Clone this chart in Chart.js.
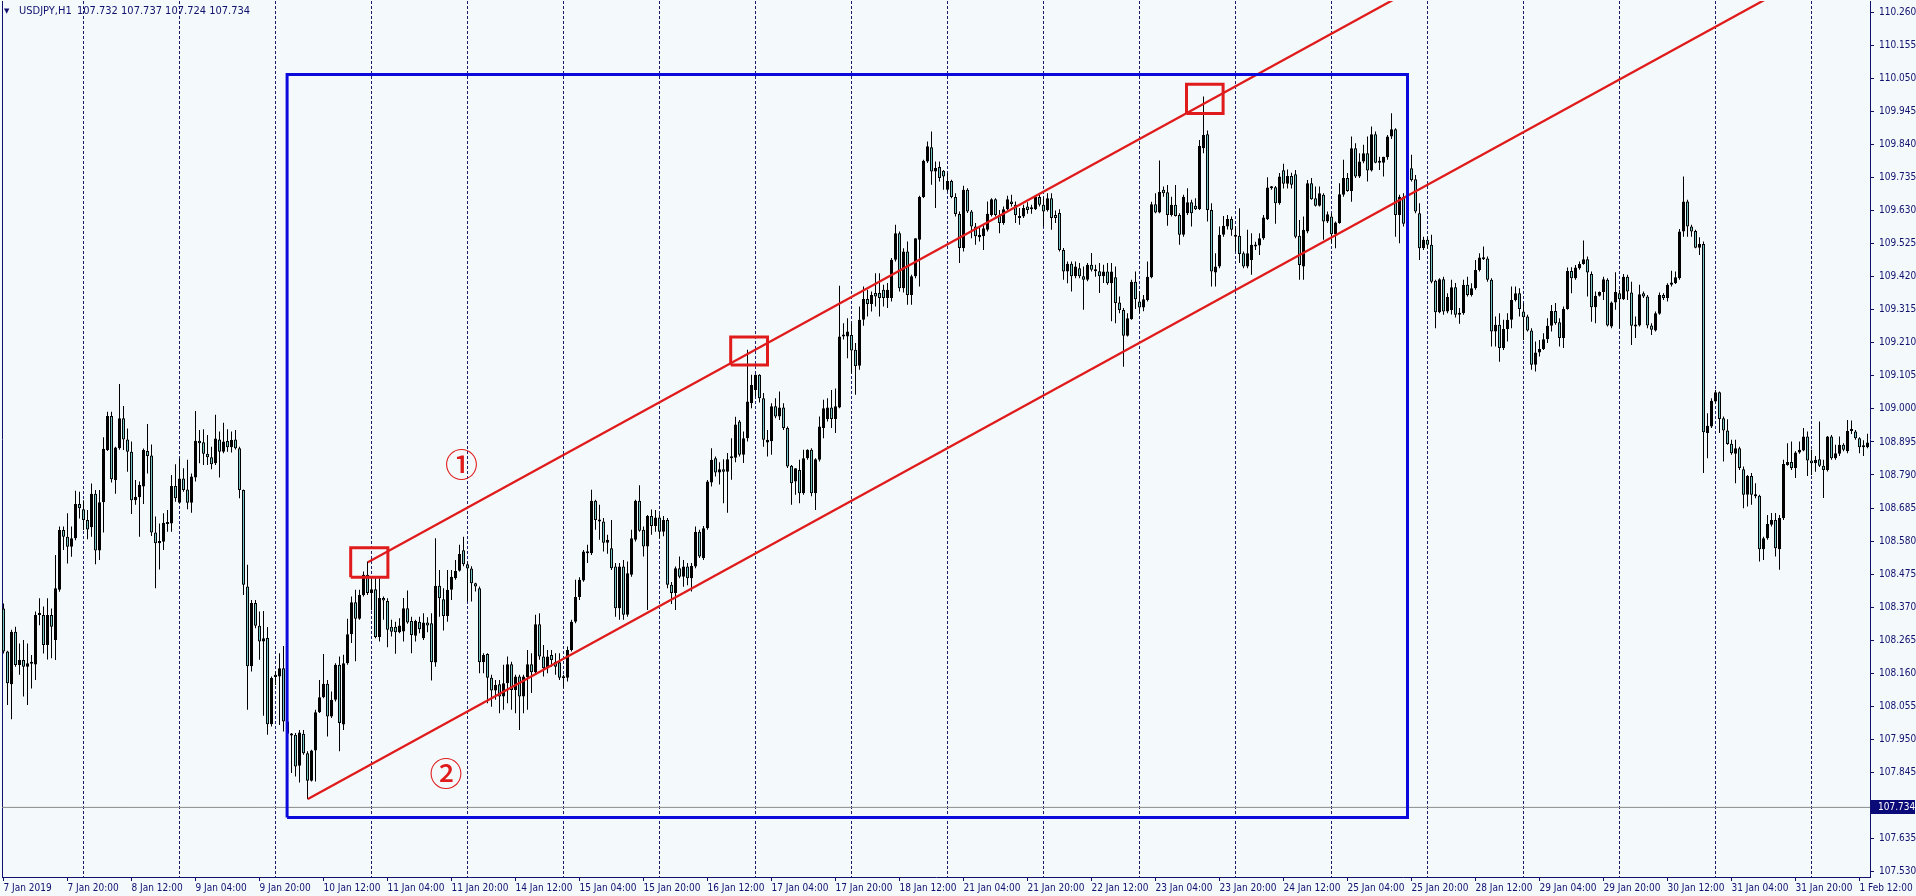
<!DOCTYPE html>
<html><head><meta charset="utf-8">
<script src="https://cdn.jsdelivr.net/npm/chart.js@4.4.1/dist/chart.umd.min.js"></script>
<style>html,body{margin:0;padding:0;background:#F4FAFC;overflow:hidden}canvas{display:block}</style>
</head><body>
<canvas id="c" width="1916" height="896"></canvas>
<script>
// ---- chart text ----
const symbolTitle = 'USDJPY,H1';
const titleQuote = '107.732 107.737 107.724 107.734';
const currentPrice = 107.734;

// ---- axis labels (bar index of each label, 1 bar = 1 hour) ----
const xLabels = ['7 Jan 2019','7 Jan 20:00','8 Jan 12:00','9 Jan 04:00','9 Jan 20:00','10 Jan 12:00','11 Jan 04:00','11 Jan 20:00','14 Jan 12:00','15 Jan 04:00','15 Jan 20:00','16 Jan 12:00','17 Jan 04:00','17 Jan 20:00','18 Jan 12:00','21 Jan 04:00','21 Jan 20:00','22 Jan 12:00','23 Jan 04:00','23 Jan 20:00','24 Jan 12:00','25 Jan 04:00','25 Jan 20:00','28 Jan 12:00','29 Jan 04:00','29 Jan 20:00','30 Jan 12:00','31 Jan 04:00','31 Jan 20:00','1 Feb 12:00'];
const xLabelBars = [0,16,32,48,64,80,96,112,128,144,160,176,192,208,224,240,256,272,288,304,320,336,352,368,384,400,416,432,448,464];
const daySeparatorBars = [20,44,68,92,116,140,164,188,212,236,260,284,308,332,356,380,404,428,452];
const yTicks = [107.530,107.635,107.845,107.950,108.055,108.160,108.265,108.370,108.475,108.580,108.685,108.790,108.895,109.000,109.105,109.210,109.315,109.420,109.525,109.630,109.735,109.840,109.945,110.050,110.155,110.260];

// ---- hourly candles [open, high, low, close] ----
const week1 = [
[108.366,108.382,108.223,108.229],[108.229,108.232,108.059,108.128],[108.125,108.298,108.014,108.292],[108.292,108.308,108.181,108.186],[108.186,108.255,108.155,108.202],
[108.202,108.266,108.086,108.181],[108.181,108.255,108.059,108.192],[108.192,108.218,108.112,108.190],[108.188,108.356,108.139,108.345],[108.345,108.398,108.313,108.348],
[108.345,108.372,108.223,108.250],[108.250,108.398,108.204,108.345],[108.345,108.366,108.208,108.308],[108.266,108.536,108.202,108.430],[108.425,108.626,108.419,108.615],
[108.615,108.626,108.552,108.594],[108.594,108.668,108.509,108.562],[108.562,108.626,108.530,108.589],[108.589,108.740,108.583,108.698],[108.698,108.737,108.652,108.684],
[108.681,108.710,108.615,108.647],[108.647,108.679,108.586,108.617],[108.624,108.763,108.594,108.730],[108.730,108.742,108.506,108.550],[108.550,108.742,108.520,108.703],
[108.703,108.910,108.607,108.873],[108.869,108.991,108.866,108.977],[108.977,108.991,108.766,108.776],[108.774,108.880,108.730,108.877],[108.875,109.079,108.870,108.970],
[108.970,109.009,108.869,108.903],[108.903,108.938,108.800,108.864],[108.864,108.896,108.666,108.710],[108.710,108.774,108.695,108.721],[108.719,108.769,108.594,108.758],
[108.753,108.874,108.698,108.869],[108.866,108.952,108.795,108.850],[108.852,108.887,108.596,108.607],[108.607,108.658,108.430,108.573],[108.573,108.636,108.490,108.580],
[108.578,108.668,108.552,108.638],[108.634,108.679,108.610,108.640],[108.636,108.790,108.610,108.755],[108.755,108.824,108.705,108.716],[108.702,108.843,108.700,108.779],
[108.779,108.811,108.737,108.742],[108.744,108.838,108.681,108.702],[108.702,108.795,108.670,108.785],[108.782,108.993,108.769,108.899],[108.899,108.933,108.827,108.891],
[108.894,108.935,108.822,108.857],[108.857,108.917,108.822,108.846],[108.846,108.880,108.808,108.824],[108.827,108.981,108.822,108.906],[108.903,108.928,108.782,108.864],
[108.864,108.956,108.859,108.896],[108.898,108.935,108.864,108.878],[108.878,108.928,108.861,108.901],[108.903,108.933,108.871,108.875],[108.875,108.880,108.716,108.742],
[108.742,108.744,108.409,108.441],[108.436,108.505,108.044,108.182],[108.182,108.393,108.166,108.383],[108.383,108.393,108.303,108.311],[108.311,108.356,108.203,108.261],
[108.261,108.358,108.025,108.271],[108.272,108.307,107.965,107.998],[107.998,108.150,107.991,108.145],[108.155,108.166,108.123,108.148],[108.150,108.224,107.996,108.176],
[108.176,108.247,107.975,108.007],[108.007,108.012,107.870,107.968],[107.962,107.970,107.843,107.965],[107.965,107.970,107.832,107.864],[107.866,107.980,107.813,107.972],
[107.968,107.980,107.901,107.906],[107.906,107.912,107.760,107.819],[107.819,107.917,107.816,107.915],[107.915,108.044,107.816,108.036],[108.036,108.139,108.034,108.084],
[108.084,108.221,108.081,108.127],[108.127,108.139,107.959,108.023],[108.023,108.102,108.018,108.076],[108.076,108.192,108.070,108.187],[108.187,108.213,107.912,108.002],
[107.997,108.219,107.980,108.192],[108.192,108.333,108.187,108.284],[108.284,108.404,108.256,108.386],[108.386,108.425,108.198,108.333],[108.333,108.425,108.330,108.409],
[108.409,108.483,108.404,108.473],[108.473,108.515,108.409,108.415],[108.415,108.460,108.360,108.427],[108.427,108.462,108.271,108.275],[108.275,108.462,108.261,108.399],
[108.399,108.404,108.330,108.391],[108.390,108.398,108.243,108.298],[108.308,108.330,108.277,108.292],[108.308,108.324,108.222,108.290],[108.290,108.335,108.287,108.312],
[108.293,108.399,108.261,108.367],[108.367,108.423,108.317,108.321],[108.326,108.340,108.224,108.282],[108.279,108.330,108.261,108.326],[108.324,108.340,108.287,108.300],
[108.271,108.351,108.266,108.321],[108.321,108.338,108.290,108.312],[108.319,108.351,108.137,108.195],[108.194,108.589,108.181,108.438],[108.438,108.488,108.340,108.398],
[108.395,108.430,108.296,108.342],[108.342,108.488,108.324,108.425],[108.425,108.488,108.393,108.467],[108.462,108.520,108.457,108.485],[108.486,108.568,108.483,108.539],
[108.551,108.594,108.500,108.506]
];
const week2 = [
[108.506,108.511,108.388,108.493],[108.493,108.500,108.388,108.446],[108.446,108.448,108.420,108.436],[108.430,108.436,108.160,108.195],[108.195,108.224,108.160,108.218],
[108.221,108.224,108.065,108.146],[108.146,108.155,108.054,108.105],[108.105,108.139,108.076,108.123],[108.125,108.139,108.033,108.086],[108.086,108.187,108.044,108.128],
[108.128,108.213,108.065,108.189],[108.189,108.197,108.044,108.107],[108.107,108.155,108.033,108.150],[108.150,108.155,107.980,108.086],[108.086,108.155,108.033,108.150],
[108.148,108.234,108.044,108.189],[108.189,108.224,108.097,108.163],[108.163,108.346,108.160,108.316],[108.316,108.351,108.203,108.213],[108.213,108.250,108.150,108.176],
[108.176,108.234,108.160,108.213],[108.218,108.234,108.181,108.202],[108.197,108.224,108.155,108.181],[108.195,108.224,108.139,108.146],[108.150,108.155,108.113,108.144],
[108.146,108.245,108.134,108.234],[108.234,108.330,108.229,108.324],[108.324,108.457,108.319,108.402],[108.402,108.465,108.393,108.457],[108.455,108.552,108.451,108.547],
[108.547,108.568,108.510,108.541],[108.541,108.743,108.536,108.708],[108.708,108.711,108.616,108.647],[108.647,108.695,108.584,108.642],[108.642,108.653,108.547,108.575],
[108.575,108.600,108.540,108.584],[108.557,108.647,108.488,108.494],[108.499,108.510,108.340,108.367],[108.367,108.510,108.330,108.499],[108.499,108.520,108.330,108.346],
[108.346,108.515,108.340,108.478],[108.473,108.616,108.467,108.589],[108.584,108.711,108.579,108.708],[108.708,108.757,108.610,108.613],[108.616,108.626,108.531,108.563],
[108.563,108.663,108.361,108.660],[108.660,108.680,108.600,108.628],[108.628,108.679,108.610,108.655],[108.655,108.665,108.590,108.610],[108.610,108.660,108.595,108.647],
[108.647,108.653,108.430,108.441],[108.441,108.450,108.380,108.415],[108.415,108.499,108.361,108.494],[108.494,108.531,108.462,108.467],[108.467,108.520,108.435,108.499],
[108.499,108.510,108.440,108.462],[108.462,108.510,108.420,108.502],[108.499,108.626,108.494,108.610],[108.610,108.616,108.526,108.531],[108.526,108.628,108.520,108.621],
[108.621,108.774,108.616,108.769],[108.766,108.875,108.753,108.838],[108.843,108.849,108.785,108.798],[108.798,108.830,108.760,108.808],[108.808,108.840,108.700,108.800],
[108.800,108.860,108.670,108.840],[108.848,108.907,108.775,108.843],[108.845,108.975,108.830,108.950],[108.960,108.965,108.849,108.854],[108.854,108.928,108.828,108.907],
[108.907,109.188,108.896,109.023],[109.018,109.108,109.002,109.076],[109.060,109.110,109.040,109.108],[109.108,109.110,109.020,109.034],[109.034,109.050,108.880,108.902],
[108.893,108.933,108.849,108.902],[108.897,109.018,108.854,109.008],[109.008,109.034,108.970,108.976],[108.976,109.055,108.965,109.004],[109.004,109.018,108.933,108.939],
[108.939,108.944,108.812,108.817],[108.819,108.822,108.695,108.764],[108.769,108.811,108.727,108.811],[108.806,108.838,108.700,108.732],[108.732,108.870,108.727,108.843],
[108.843,108.872,108.838,108.870],[108.870,108.875,108.722,108.732],[108.732,108.843,108.679,108.840],[108.838,108.976,108.833,108.944],[108.939,109.029,108.907,109.002],
[108.968,109.034,108.960,109.004],[109.004,109.060,108.939,108.968],[108.968,109.065,108.923,109.008],[109.004,109.391,109.002,109.230],[109.230,109.272,109.220,109.232],
[109.230,109.288,109.161,109.246],[109.235,109.272,109.113,109.185],[109.188,109.209,109.045,109.135],[109.137,109.325,109.124,109.283],[109.283,109.389,109.264,109.349],
[109.349,109.378,109.293,109.333],[109.333,109.373,109.309,109.362],[109.368,109.431,109.325,109.357],[109.368,109.431,109.293,109.352],[109.378,109.394,109.325,109.352],
[109.352,109.400,109.320,109.378],[109.352,109.479,109.341,109.474],[109.474,109.585,109.468,109.558],[109.558,109.563,109.373,109.383],[109.383,109.510,109.370,109.500],
[109.500,109.532,109.331,109.362],[109.362,109.426,109.331,109.421],[109.421,109.542,109.415,109.542],[109.537,109.677,109.389,109.673],[109.673,109.791,109.670,109.788],
[109.786,109.849,109.781,109.834],[109.831,109.881,109.712,109.754],[109.754,109.786,109.638,109.765],[109.768,109.786,109.722,109.733],[109.756,109.759,109.696,109.738]
];
const week3 = [
[109.696,109.749,109.691,109.724],[109.724,109.728,109.669,109.673],[109.673,109.685,109.611,109.619],[109.619,109.627,109.463,109.511],[109.511,109.709,109.500,109.696],
[109.696,109.701,109.622,109.627],[109.627,109.632,109.542,109.579],[109.579,109.590,109.521,109.548],[109.545,109.579,109.532,109.553],[109.548,109.585,109.505,109.574],
[109.569,109.659,109.563,109.620],[109.616,109.669,109.611,109.666],[109.666,109.669,109.611,109.616],[109.616,109.632,109.558,109.590],[109.590,109.643,109.585,109.634],
[109.634,109.677,109.632,109.666],[109.659,109.680,109.643,109.651],[109.648,109.659,109.590,109.616],[109.613,109.638,109.585,109.606],[109.611,109.648,109.606,109.638],
[109.643,109.656,109.620,109.632],[109.634,109.648,109.620,109.638],[109.634,109.677,109.632,109.673],[109.673,109.680,109.643,109.648],[109.648,109.673,109.579,109.627],
[109.632,109.685,109.627,109.669],[109.669,109.685,109.569,109.606],[109.616,109.630,109.590,109.606],[109.622,109.634,109.500,109.505],[109.505,109.511,109.410,109.436],
[109.436,109.468,109.399,109.461],[109.461,109.468,109.373,109.421],[109.421,109.468,109.415,109.452],[109.447,109.463,109.415,109.421],[109.421,109.452,109.315,109.410],
[109.410,109.463,109.405,109.458],[109.458,109.495,109.436,109.442],[109.442,109.458,109.420,109.437],[109.437,109.463,109.368,109.421],[109.421,109.458,109.400,109.436],
[109.436,109.463,109.394,109.399],[109.399,109.463,109.278,109.436],[109.418,109.452,109.272,109.336],[109.338,109.357,109.304,109.314],[109.314,109.320,109.134,109.232],
[109.232,109.304,109.230,109.288],[109.285,109.410,109.283,109.404],[109.404,109.436,109.317,109.348],[109.341,109.373,109.304,109.322],[109.322,109.362,109.310,109.348],
[109.346,109.468,109.341,109.420],[109.418,109.658,109.415,109.650],[109.650,109.685,109.621,109.624],[109.624,109.789,109.621,109.690],[109.696,109.706,109.674,109.685],
[109.688,109.711,109.582,109.616],[109.616,109.674,109.611,109.648],[109.648,109.711,109.611,109.613],[109.616,109.621,109.521,109.553],[109.553,109.680,109.547,109.674],
[109.621,109.701,109.616,109.656],[109.656,109.664,109.579,109.621],[109.645,109.669,109.632,109.634],[109.634,109.854,109.632,109.835],[109.828,109.992,109.812,109.870],
[109.872,109.884,109.595,109.632],[109.632,109.653,109.389,109.436],[109.433,109.494,109.389,109.452],[109.452,109.579,109.447,109.553],[109.553,109.613,109.547,109.582],
[109.579,109.616,109.570,109.603],[109.603,109.611,109.550,109.569],[109.553,109.579,109.500,109.547],[109.550,109.637,109.463,109.492],[109.494,109.500,109.447,109.452],
[109.452,109.569,109.447,109.494],[109.473,109.558,109.426,109.521],[109.521,109.531,109.505,109.516],[109.519,109.558,109.489,109.542],[109.542,109.616,109.537,109.608],
[109.602,109.736,109.600,109.703],[109.704,109.708,109.696,109.701],[109.704,109.708,109.588,109.653],[109.653,109.749,109.648,109.738],[109.758,109.779,109.700,109.715],
[109.715,109.760,109.700,109.740],[109.740,109.750,109.700,109.712],[109.745,109.759,109.542,109.547],[109.550,109.600,109.410,109.457],[109.452,109.611,109.410,109.569],
[109.563,109.727,109.558,109.717],[109.717,109.733,109.664,109.666],[109.669,109.706,109.643,109.645],[109.645,109.706,109.643,109.685],[109.680,109.685,109.537,109.595],
[109.595,109.627,109.590,109.618],[109.611,109.621,109.526,109.555],[109.555,109.595,109.510,109.592],[109.590,109.717,109.588,109.682],[109.680,109.791,109.674,109.733],
[109.733,109.749,109.690,109.692],[109.692,109.865,109.658,109.828],[109.828,109.844,109.733,109.738],[109.738,109.812,109.733,109.786],[109.786,109.839,109.780,109.812],
[109.812,109.865,109.722,109.757],[109.757,109.897,109.754,109.872],[109.872,109.881,109.780,109.782],[109.782,109.801,109.759,109.786],[109.782,109.801,109.738,109.801],
[109.799,109.870,109.791,109.865],[109.865,109.939,109.857,109.888],[109.888,109.891,109.547,109.616],[109.616,109.680,109.526,109.674],[109.674,109.685,109.579,109.588],
[109.588,109.907,109.569,109.764],[109.764,109.807,109.722,109.727],[109.729,109.743,109.621,109.627],[109.621,109.653,109.473,109.510],[109.510,109.547,109.505,109.537]
];
const week4 = [
[109.537,109.545,109.510,109.521],[109.521,109.553,109.399,109.404],[109.407,109.410,109.256,109.307],[109.307,109.415,109.304,109.412],[109.412,109.420,109.299,109.309],
[109.309,109.367,109.304,109.355],[109.314,109.410,109.300,109.386],[109.386,109.400,109.290,109.299],[109.299,109.320,109.270,109.305],[109.304,109.410,109.299,109.394],
[109.394,109.420,109.357,109.362],[109.362,109.399,109.357,109.383],[109.383,109.473,109.378,109.441],[109.441,109.494,109.436,109.481],[109.481,109.516,109.473,109.475],
[109.478,109.484,109.404,109.410],[109.410,109.415,109.198,109.246],[109.246,109.293,109.198,109.267],[109.267,109.304,109.150,109.193],[109.193,109.283,109.187,109.254],
[109.254,109.304,109.214,109.283],[109.283,109.389,109.256,109.346],[109.346,109.389,109.341,109.367],[109.367,109.383,109.293,109.317],[109.309,109.336,109.219,109.291],
[109.293,109.299,109.246,109.249],[109.249,109.256,109.124,109.140],[109.140,109.214,109.119,109.179],[109.179,109.219,109.166,109.190],[109.190,109.240,109.187,109.221],
[109.221,109.288,109.209,109.264],[109.264,109.330,109.246,109.311],[109.311,109.336,109.267,109.272],[109.275,109.288,109.198,109.225],[109.225,109.325,109.193,109.317],
[109.317,109.449,109.315,109.438],[109.438,109.450,109.367,109.415],[109.415,109.457,109.410,109.449],[109.447,109.468,109.442,109.460],[109.460,109.535,109.458,109.475],
[109.475,109.484,109.357,109.433],[109.428,109.436,109.277,109.323],[109.323,109.373,109.272,109.359],[109.359,109.373,109.357,109.371],[109.371,109.420,109.346,109.412],
[109.410,109.415,109.262,109.265],[109.262,109.341,109.256,109.338],[109.338,109.434,109.315,109.371],[109.367,109.378,109.256,109.348],[109.348,109.428,109.346,109.420],
[109.420,109.426,109.346,109.373],[109.370,109.404,109.203,109.264],[109.262,109.293,109.225,109.267],[109.265,109.394,109.262,109.364],[109.367,109.373,109.352,109.357],
[109.357,109.362,109.256,109.265],[109.265,109.272,109.235,109.251],[109.249,109.309,109.246,109.304],[109.302,109.370,109.299,109.362],[109.362,109.367,109.346,109.352],
[109.352,109.399,109.341,109.394],[109.394,109.439,109.389,109.401],[109.399,109.436,109.397,109.418],[109.415,109.571,109.410,109.563],[109.563,109.738,109.547,109.659],
[109.659,109.664,109.547,109.579],[109.579,109.585,109.547,109.563],[109.565,109.569,109.510,109.512],[109.512,109.545,109.489,109.524],[109.524,109.532,108.796,108.926],
[108.923,108.986,108.843,108.946],[108.944,109.034,108.939,109.026],[109.023,109.060,109.018,109.053],[109.053,109.055,108.923,108.968],[108.970,108.976,108.833,108.931],
[108.931,108.967,108.886,108.888],[108.889,108.902,108.854,108.859],[108.857,108.902,108.764,108.875],[108.875,108.880,108.806,108.812],[108.808,108.817,108.684,108.727],
[108.727,108.790,108.690,108.787],[108.787,108.796,108.695,108.727],[108.722,108.764,108.716,108.727],[108.724,108.727,108.515,108.554],[108.554,108.594,108.520,108.589],
[108.589,108.663,108.584,108.634],[108.632,108.669,108.626,108.647],[108.647,108.669,108.531,108.557],[108.554,108.663,108.489,108.653],[108.653,108.838,108.647,108.825],
[108.822,108.891,108.819,108.831],[108.831,108.896,108.806,108.812],[108.812,108.865,108.780,108.861],[108.861,108.896,108.857,108.870],[108.868,108.939,108.865,108.912],
[108.912,108.928,108.787,108.836],[108.836,108.870,108.790,108.827],[108.827,108.850,108.800,108.838],[108.840,108.960,108.815,108.819],[108.819,108.838,108.717,108.806],
[108.806,108.914,108.801,108.912],[108.912,108.917,108.838,108.843],[108.843,108.886,108.838,108.859],[108.857,108.912,108.850,108.886],[108.886,108.891,108.865,108.870],
[108.865,108.965,108.859,108.930],[108.930,108.963,108.920,108.933],[108.928,108.933,108.902,108.907],[108.907,108.910,108.859,108.878],[108.878,108.900,108.850,108.880],
[108.878,108.921,108.875,108.893]
];

// ---- drawn objects, in chart coordinates (bar index, price) ----
const channelUpper = [{x: 91.1, y: 108.5125}, {x: 360, y: 110.387}];
const channelLower = [{x: 76.1, y: 107.7606}, {x: 450, y: 110.367}];
const rangeBox = [70.9, 351.0, 107.702, 110.062];          // x0, x1, low, high
const touchBox1 = [86.8, 96.1, 108.465, 108.559];
const touchBox2 = [181.8, 191.0, 109.139, 109.228];
const touchBox3 = [295.75, 304.9, 109.938, 110.031];
const markText = ['\u2460', '\u2461'];
const markPos = [{x: 114.5, y: 108.822}, {x: 110.6, y: 107.842}];
const yMin = 107.5129, yMax = 110.2956;

// ---- styles ----
const NAVY = '#10106E';
const GRID = '#1A1A6A';
const BULL = '#000000';
const BEAR = '#72C3C3';
const RED = '#E01B1B';
const BLUE = '#0A0ADC';
const AXIS_FONT = {family: "'Liberation Sans Narrow','DejaVu Sans Condensed','Liberation Sans',sans-serif", size: 10};

const candles = week1.concat(week2, week3, week4);
const xMin = -0.375, xMax = candles.length - 0.375;
const wicks = candles.map((c, i) => ({x: i, y: [c[2], c[1]]}));
const bodies = candles.map((c, i) => ({x: i, y: [Math.min(c[0], c[3]), Math.max(c[0], c[3])]}));
const bodyFill = candles.map(c => c[3] >= c[0] ? BULL : BEAR);
const boxPath = b => [{x: b[0], y: b[2]}, {x: b[1], y: b[2]}, {x: b[1], y: b[3]}, {x: b[0], y: b[3]}, {x: b[0], y: b[2]}];
const lineDs = (data, color, width, order) => ({type: 'line', data, borderColor: color, borderWidth: width, pointRadius: 0, fill: false, tension: 0, clip: 0, order, borderJoinStyle: 'miter', xAxisID: 'x', yAxisID: 'y'});

const overlay = {
  id: 'overlay',
  afterDatasetsDraw(chart) {
    const {ctx, scales} = chart;
    ctx.save();
    ctx.fillStyle = RED;
    ctx.font = "500 33px 'Noto Sans CJK JP'";
    ctx.textAlign = 'center';
    ctx.textBaseline = 'middle';
    markText.forEach((t, i) => ctx.fillText(t, scales.x.getPixelForValue(markPos[i].x), scales.y.getPixelForValue(markPos[i].y)));
    ctx.restore();
  },
  afterDraw(chart) {
    const {ctx, scales} = chart;
    ctx.save();
    ctx.fillStyle = NAVY;
    ctx.textBaseline = 'middle';
    ctx.textAlign = 'left';
    ctx.font = "7px 'DejaVu Sans'";
    ctx.fillText('\u25BC', 4, 11);
    ctx.font = "11px 'Liberation Sans Narrow','DejaVu Sans Condensed','Liberation Sans',sans-serif";
    ctx.fillText(symbolTitle, 19, 11);
    ctx.fillText(titleQuote, 77, 11);
    const y = Math.round(scales.y.getPixelForValue(currentPrice));
    const x0 = scales.y.left + 1;
    ctx.fillStyle = '#0A0A78';
    ctx.fillRect(x0, y - 7, 44, 14);
    ctx.fillStyle = '#FFFFFF';
    ctx.font = "10px 'Liberation Sans Narrow','DejaVu Sans Condensed','Liberation Sans',sans-serif";
    ctx.fillText(currentPrice.toFixed(3), scales.y.left + 8, y);
    ctx.restore();
  }
};

new Chart(document.getElementById('c'), {
  type: 'bar',
  data: {
    datasets: [
      lineDs(boxPath(rangeBox), BLUE, 3, 0),
      lineDs(channelUpper, RED, 2.3, 0),
      lineDs(channelLower, RED, 2.3, 0),
      lineDs(boxPath(touchBox1), RED, 3, 0),
      lineDs(boxPath(touchBox2), RED, 3, 0),
      lineDs(boxPath(touchBox3), RED, 3, 0),
      {type: 'bar', data: bodies, backgroundColor: bodyFill, borderColor: '#000000', borderWidth: 1, borderSkipped: false,
       grouped: false, barPercentage: 0.75, categoryPercentage: 1, minBarLength: 2, inflateAmount: 0, order: 2, xAxisID: 'x', yAxisID: 'y'},
      {type: 'bar', data: wicks, backgroundColor: '#000000', borderWidth: 0, grouped: false, barPercentage: 0.25,
       categoryPercentage: 1, inflateAmount: 0, order: 3, xAxisID: 'x', yAxisID: 'y'},
      lineDs([{x: xMin, y: currentPrice}, {x: xMax, y: currentPrice}], '#8A8A8A', 1, 5)
    ]
  },
  options: {
    responsive: false,
    maintainAspectRatio: false,
    animation: false,
    devicePixelRatio: 1,
    events: [],
    layout: {padding: {left: 0, top: 1, right: 0, bottom: 0}},
    plugins: {legend: {display: false}, tooltip: {enabled: false}, title: {display: false}},
    scales: {
      x: {
        type: 'linear', position: 'bottom', min: xMin, max: xMax, offset: false,
        grid: {offset: false, drawOnChartArea: false, drawTicks: true, tickLength: 4, tickColor: NAVY, color: NAVY},
        border: {display: true, color: NAVY, width: 1},
        ticks: {autoSkip: false, maxRotation: 0, minRotation: 0, align: 'start', padding: 1, color: NAVY, font: AXIS_FONT,
                callback: (v, i) => xLabels[i]},
        afterBuildTicks: s => { s.ticks = xLabelBars.map(v => ({value: v})); },
        afterFit: s => { s.height = 19; s.paddingLeft = 0; s.paddingRight = 0; }
      },
      xGrid: {
        type: 'linear', position: 'bottom', min: xMin, max: xMax, offset: false,
        grid: {offset: false, drawOnChartArea: true, drawTicks: false, color: GRID, lineWidth: 1},
        border: {display: false, dash: [3, 2]},
        ticks: {display: false},
        afterBuildTicks: s => { s.ticks = daySeparatorBars.map(v => ({value: v})); },
        afterFit: s => { s.height = 0; s.paddingLeft = 0; s.paddingRight = 0; }
      },
      y: {
        type: 'linear', position: 'right', min: yMin, max: yMax,
        grid: {drawOnChartArea: false, drawTicks: true, tickLength: 4, tickColor: NAVY, color: NAVY},
        border: {display: true, color: NAVY, width: 1},
        ticks: {autoSkip: false, padding: 5, color: NAVY, font: AXIS_FONT, callback: v => v.toFixed(3)},
        afterBuildTicks: s => { s.ticks = yTicks.map(v => ({value: v})); },
        afterFit: s => { s.width = 46; s.paddingTop = 0; s.paddingBottom = 0; }
      },
      yFrame: {
        type: 'linear', position: 'left', min: yMin, max: yMax,
        grid: {drawOnChartArea: false, drawTicks: false},
        border: {display: true, color: NAVY, width: 1},
        ticks: {display: false},
        afterFit: s => { s.width = 2; s.paddingTop = 0; s.paddingBottom = 0; }
      }
    }
  },
  plugins: [overlay]
});
</script>
</body></html>
